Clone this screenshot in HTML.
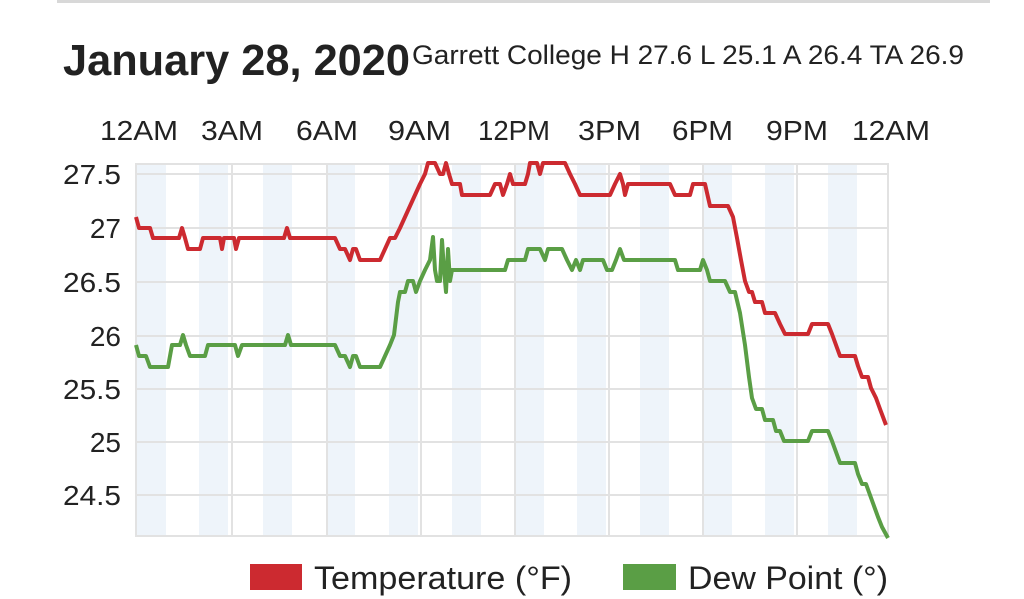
<!DOCTYPE html>
<html><head><meta charset="utf-8"><style>
html,body{margin:0;padding:0;background:#fff;width:1024px;height:599px;overflow:hidden}
svg{display:block;font-family:"Liberation Sans",sans-serif}
</style></head><body>
<svg width="1024" height="599" viewBox="0 0 1024 599">
<rect x="57" y="0" width="933" height="3" fill="#d8d8d8"/>
<text x="63" y="75" font-size="44" font-weight="bold" fill="#222" textLength="347" lengthAdjust="spacingAndGlyphs">January 28, 2020</text>
<text x="412" y="64" font-size="27" fill="#222" textLength="552" lengthAdjust="spacingAndGlyphs">Garrett College  H 27.6 L 25.1 A 26.4 TA 26.9</text>
<g font-size="28" fill="#222">
<text x="100" y="140" textLength="78" lengthAdjust="spacingAndGlyphs">12AM</text><text x="201" y="140" textLength="62" lengthAdjust="spacingAndGlyphs">3AM</text><text x="296" y="140" textLength="62" lengthAdjust="spacingAndGlyphs">6AM</text><text x="388" y="140" textLength="63" lengthAdjust="spacingAndGlyphs">9AM</text><text x="478" y="140" textLength="72" lengthAdjust="spacingAndGlyphs">12PM</text><text x="578" y="140" textLength="63" lengthAdjust="spacingAndGlyphs">3PM</text><text x="672" y="140" textLength="61" lengthAdjust="spacingAndGlyphs">6PM</text><text x="766" y="140" textLength="62" lengthAdjust="spacingAndGlyphs">9PM</text><text x="852" y="140" textLength="78" lengthAdjust="spacingAndGlyphs">12AM</text>
</g>
<g fill="#eef4fa">
<rect x="137" y="163" width="29" height="374"/><rect x="199" y="163" width="29" height="374"/><rect x="263" y="163" width="29" height="374"/><rect x="326" y="163" width="29" height="374"/><rect x="389" y="163" width="29" height="374"/><rect x="452" y="163" width="29" height="374"/><rect x="515" y="163" width="29" height="374"/><rect x="577" y="163" width="29" height="374"/><rect x="640" y="163" width="29" height="374"/><rect x="703" y="163" width="29" height="374"/><rect x="765" y="163" width="29" height="374"/><rect x="828" y="163" width="29" height="374"/>
</g>
<g stroke="#e2e2e2" stroke-width="2" fill="none">
<rect x="136" y="164" width="752" height="372"/>
<line x1="136" y1="174" x2="888" y2="174"/><line x1="136" y1="228" x2="888" y2="228"/><line x1="136" y1="282" x2="888" y2="282"/><line x1="136" y1="336" x2="888" y2="336"/><line x1="136" y1="389" x2="888" y2="389"/><line x1="136" y1="442" x2="888" y2="442"/><line x1="136" y1="495" x2="888" y2="495"/>
<line x1="232" y1="164" x2="232" y2="536"/><line x1="327" y1="164" x2="327" y2="536"/><line x1="421" y1="164" x2="421" y2="536"/><line x1="515" y1="164" x2="515" y2="536"/><line x1="609" y1="164" x2="609" y2="536"/><line x1="703" y1="164" x2="703" y2="536"/><line x1="797" y1="164" x2="797" y2="536"/>
</g>
<g font-size="28" fill="#222" text-anchor="end">
<text x="121" y="184" textLength="58" lengthAdjust="spacingAndGlyphs">27.5</text><text x="121" y="238">27</text><text x="121" y="292" textLength="58" lengthAdjust="spacingAndGlyphs">26.5</text><text x="121" y="346">26</text><text x="121" y="399" textLength="58" lengthAdjust="spacingAndGlyphs">25.5</text><text x="121" y="452">25</text><text x="121" y="505" textLength="58" lengthAdjust="spacingAndGlyphs">24.5</text>
</g>
<polyline fill="none" stroke="#cc2a30" stroke-width="4" stroke-linejoin="round" points="136,217 139,228 150,228 153,238 179,238 182,228 185,238 188,249 200,249 203,238 220,238 222,249 224,238 234,238 236,249 239,238 284,238 287,228 290,238 335,238 340,249 345,249 350,260 353,249 356,249 360,260 380,260 385,249 390,238 395,238 400,228 405,217 410,206 415,195 420,184 425,174 428,163 435,163 440,174 443,174 446,163 449,174 452,184 460,184 462,195 490,195 495,184 500,184 503,195 507,184 510,174 513,184 525,184 528,174 530,163 537,163 540,174 543,163 565,163 570,174 575,184 580,195 610,195 615,184 620,174 623,184 625,195 628,184 670,184 675,195 690,195 693,184 705,184 710,206 728,206 733,217 737,238 741,260 745,281 749,292 752,292 755,302 762,302 765,313 775,313 780,324 785,334 808,334 812,324 828,324 832,334 836,345 840,356 855,356 858,366 862,377 868,377 871,388 876,398 880,409 886,425"/>
<polyline fill="none" stroke="#5a9e45" stroke-width="4" stroke-linejoin="round" points="136,345 139,356 146,356 150,367 168,367 172,345 180,345 183,335 186,345 190,356 205,356 208,345 235,345 238,356 242,345 285,345 288,335 291,345 335,345 340,356 345,356 350,367 353,356 356,356 360,367 380,367 385,356 390,345 394,335 398,302 400,292 405,292 408,281 413,281 416,292 420,281 425,270 430,260 433,237 435,270 437,281 440,281 442,240 444,270 446,292 448,249 450,281 452,270 505,270 508,260 525,260 528,249 540,249 545,260 548,249 562,249 567,260 572,270 576,260 580,270 583,260 603,260 607,270 612,270 616,260 620,249 624,260 628,260 675,260 678,270 700,270 703,260 707,270 710,281 725,281 730,292 735,292 740,313 745,345 749,377 752,398 756,409 762,409 765,420 773,420 776,431 780,431 784,441 808,441 812,431 828,431 832,441 836,452 840,463 855,463 858,474 862,484 866,484 870,495 874,506 878,517 882,527 888,538"/>
<rect x="250" y="564" width="52" height="26" fill="#cc2a30"/>
<text x="314" y="589" font-size="32" fill="#222" textLength="258" lengthAdjust="spacingAndGlyphs">Temperature (°F)</text>
<rect x="623" y="564" width="53" height="26" fill="#5a9e45"/>
<text x="688" y="589" font-size="32" fill="#222" textLength="200" lengthAdjust="spacingAndGlyphs">Dew Point (°)</text>
</svg>
</body></html>
